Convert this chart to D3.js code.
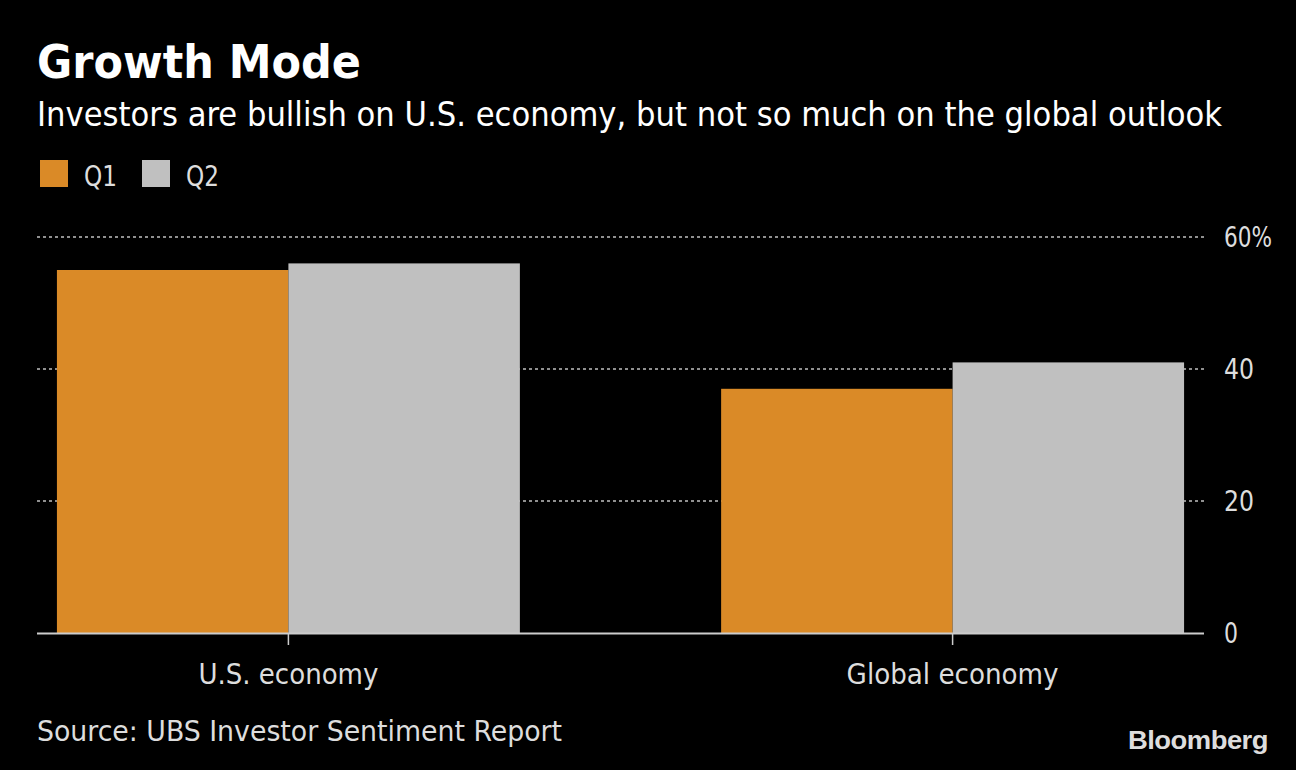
<!DOCTYPE html>
<html><head><meta charset="utf-8">
<script src="https://cdn.jsdelivr.net/npm/d3@7"></script>
<style>html,body{margin:0;padding:0;background:#000;}svg{display:block;}</style>
</head><body>
<svg id="c" width="1296" height="770"></svg>
<script>
const categories = ["U.S. economy", "Global economy"];
const seriesNames = ["Q1", "Q2"];
const q1Values = [55, 37];
const q2Values = [56, 41];
const yTicks = [0, 20, 40, 60];
const yTickLabels = ["0", "20", "40", "60%"];

(function(){
const colors = {Q1: "#DA8A27", Q2: "#C0C0C0"};
const font = "'DejaVu Sans Condensed','DejaVu Sans',sans-serif";
const svg = d3.select("#c");
svg.append("rect").attr("width",1296).attr("height",770).attr("fill","#000");

const pLeft = 37, pRight = 1204, pTop = 237, pBottom = 633;
const x = d3.scaleBand().domain(categories).range([pLeft,pRight]).paddingInner(0.303).paddingOuter(0.03);
const xs = d3.scaleBand().domain(seriesNames).range([0, x.bandwidth()]);
const y = d3.scaleLinear().domain([0,60]).range([pBottom, pTop]);

function fitText(sel, w){ sel.attr("textLength", w).attr("lengthAdjust","spacingAndGlyphs"); return sel; }

// title
fitText(svg.append("text").attr("x",37).attr("y",78).attr("fill","#fff")
  .attr("font-family",font).attr("font-weight","bold").attr("font-size",46)
  .text("Growth Mode"), 324);
fitText(svg.append("text").attr("x",37).attr("y",126).attr("fill","#fff")
  .attr("font-family",font).attr("font-size",33)
  .text("Investors are bullish on U.S. economy, but not so much on the global outlook"), 1185);

// legend
const legX = [40, 142];
seriesNames.forEach((s,i)=>{
  svg.append("rect").attr("x",legX[i]).attr("y",160).attr("width",28).attr("height",27).attr("fill",colors[s]);
  fitText(svg.append("text").attr("x",legX[i]+44).attr("y",186).attr("fill","#ddd")
    .attr("font-family",font).attr("font-size",28).text(s), 33);
});

// grid
yTicks.filter(t=>t>0).forEach(t=>{
  svg.append("line").attr("x1",pLeft).attr("x2",pRight).attr("y1",y(t)).attr("y2",y(t))
    .attr("stroke","#909090").attr("stroke-width",2).attr("stroke-dasharray","3,3");
});
// y labels
const yLabelW = [14, 30, 30, 48];
yTicks.forEach((t,i)=>{
  fitText(svg.append("text").attr("x",1224).attr("y",y(t)+10).attr("fill","#ddd")
    .attr("font-family",font).attr("font-size",28).text(yTickLabels[i]), yLabelW[i]);
});

// bars
const data = categories.map((c,i)=>({cat:c, Q1:q1Values[i], Q2:q2Values[i]}));
const g = svg.append("g");
data.forEach(d=>{
  seriesNames.forEach(s=>{
    g.append("rect").attr("x",x(d.cat)+xs(s)).attr("width",xs.bandwidth())
      .attr("y",y(d[s])).attr("height",y(0)-y(d[s])).attr("fill",colors[s]);
  });
});

// x axis
svg.append("line").attr("x1",pLeft).attr("x2",pRight).attr("y1",pBottom+0.5).attr("y2",pBottom+0.5)
  .attr("stroke","#ccc").attr("stroke-width",2);
const xLabelW = [180, 212];
categories.forEach((c,i)=>{
  const cx = x(c)+x.bandwidth()/2;
  svg.append("line").attr("x1",cx).attr("x2",cx).attr("y1",pBottom).attr("y2",pBottom+12)
    .attr("stroke","#ccc").attr("stroke-width",1.5);
  fitText(svg.append("text").attr("x",cx).attr("y",684).attr("text-anchor","middle").attr("fill","#ddd")
    .attr("font-family",font).attr("font-size",29).text(c), xLabelW[i]);
});

// source
fitText(svg.append("text").attr("x",37).attr("y",741).attr("fill","#ddd")
  .attr("font-family",font).attr("font-size",28).text("Source: UBS Investor Sentiment Report"), 525);
fitText(svg.append("text").attr("x",1128).attr("y",749).attr("fill","#ddd")
  .attr("font-family","'Liberation Sans',Arial,sans-serif").attr("font-weight","bold").attr("font-size",26)
  .attr("letter-spacing",-0.5).text("Bloomberg"), 140);
})();
</script>
</body></html>
